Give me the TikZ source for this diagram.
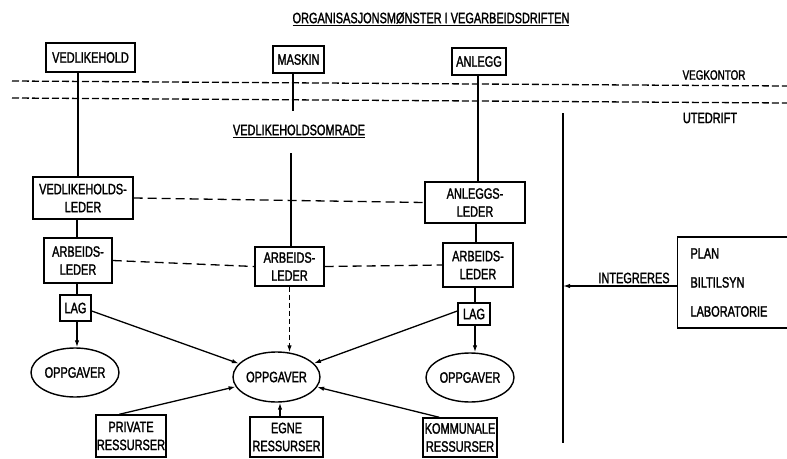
\documentclass[tikz,border=0pt]{standalone}
\usepackage{fontspec}
\setmainfont{Liberation Sans}[FakeStretch=0.73,FakeBold=1.6]
\usetikzlibrary{arrows.meta,shapes.geometric,calc}
\begin{document}
\begin{tikzpicture}[x=1pt,y=-1pt,
  font=\fontsize{15}{18}\selectfont,
  box/.style={draw, line width=1.4pt, inner sep=0pt, align=center},
  oval/.style={draw, ellipse, line width=1.4pt, inner sep=0pt},
  conn/.style={line width=1.3pt},
  arr/.style={line width=1.3pt, -{Latex[length=7pt,width=4.5pt]}},
  bdash/.style={line width=1.3pt, dash pattern=on 9pt off 5pt},
  hdash/.style={line width=1.3pt, dash pattern=on 7pt off 3pt}]
\useasboundingbox (0,0) rectangle (787,458);
\fill[white] (0,0) rectangle (787,458);

% titles
\node (title) at (431,19) {\underline{ORGANISASJONSMØNSTER I VEGARBEIDSDRIFTEN}};
\node (omr) at (299,131) {\underline{VEDLIKEHOLDSOMRADE}};
\node[font=\fontsize{13.5}{16}\selectfont] (vegk) at (714,75) {VEGKONTOR};
\node (ute) at (710,118) {UTEDRIFT};

% dashed boundary lines
\coordinate (d1a) at (12,81); \coordinate (d1b) at (787,86);
\coordinate (d2a) at (12,98); \coordinate (d2b) at (787,103);
\draw[hdash] (d1a) -- (d1b);
\draw[hdash] (d2a) -- (d2b);

% top boxes
\node[box, minimum width=89pt, minimum height=29pt] (vedl) at (90.5,57.5) {VEDLIKEHOLD};
\node[box, minimum width=51pt, minimum height=27pt] (maskin) at (298.5,59.5) {MASKIN};
\node[box, minimum width=54pt, minimum height=27pt] (anlegg) at (479,61.5) {ANLEGG};

% leaders
\node[box, minimum width=100pt, minimum height=42pt] (vleder) at (83,198) {VEDLIKEHOLDS-\\LEDER};
\node[box, minimum width=100pt, minimum height=41pt] (aleder) at (475,202.5) {ANLEGGS-\\LEDER};
\node[box, minimum width=68pt, minimum height=45pt] (arb1) at (78,260.5) {ARBEIDS-\\LEDER};
\node[box, minimum width=69pt, minimum height=39pt] (arb2) at (289.5,266.5) {ARBEIDS-\\LEDER};
\node[box, minimum width=70pt, minimum height=44pt] (arb3) at (478,265) {ARBEIDS-\\LEDER};
\node[box, minimum width=31pt, minimum height=26pt] (lag1) at (75.5,308) {LAG};
\node[box, minimum width=32pt, minimum height=22pt] (lag2) at (474,314) {LAG};

% tasks
\node[oval, minimum width=88pt, minimum height=49pt] (opp1) at (75,372.5) {OPPGAVER};
\node[oval, minimum width=87pt, minimum height=50pt] (opp2) at (276.5,377) {OPPGAVER};
\node[oval, minimum width=88pt, minimum height=49pt] (opp3) at (470,377.5) {OPPGAVER};

% resources
\node[box, minimum width=70pt, minimum height=42pt] (priv) at (131,436) {PRIVATE\\RESSURSER};
\node[box, minimum width=73pt, minimum height=40pt] (egne) at (286.5,437) {EGNE\\RESSURSER};
\node[box, minimum width=74pt, minimum height=39pt] (komm) at (460,437.5) {KOMMUNALE\\RESSURSER};

% plan box
\node[box, minimum width=97pt, minimum height=91pt, align=left, text width=84pt, inner xsep=13pt] (plan) at (732.5,282.5)
  {PLAN\\[11pt]BILTILSYN\\[11pt]LABORATORIE};

% vertical divider
\coordinate (v1) at (563,113); \coordinate (v2) at (563,443);
\draw[conn] (v1) -- (v2);
\coordinate (vint) at (563,286);
\draw[arr] ([yshift=-3.5pt]plan.west) -- (vint);
\node (integ) at (634,278) {INTEGRERES};

% solid connectors
\draw[conn] ([xshift=-12.5pt]vedl.south) -- ([xshift=-5pt]vleder.north);
\draw[conn] ([xshift=-6pt]vleder.south) -- ([xshift=-1pt]arb1.north);
\draw[conn] ([xshift=-1pt]arb1.south) -- ([xshift=1.5pt]lag1.north);
\draw[arr] ([xshift=1.5pt]lag1.south) -- ([xshift=2pt]opp1.north);

\coordinate (m1) at (293,111);
\draw[conn] ([xshift=-5.5pt]maskin.south) -- (m1);
\coordinate (m2) at (291,153);
\draw[conn] (m2) -- ([xshift=1.5pt]arb2.north);

\draw[conn] ([xshift=-1pt]anlegg.south) -- ([xshift=3pt]aleder.north);
\draw[conn] ([xshift=1pt]aleder.south) -- ([xshift=-2pt]arb3.north);
\draw[conn] ([xshift=-3pt]arb3.south) -- ([xshift=1pt]lag2.north);
\draw[arr] ([xshift=1pt]lag2.south) -- ([xshift=5pt]opp3.north);

% dashed connectors
\draw[bdash] (vleder.east) -- (aleder.west);
\draw[bdash] (arb1.east) -- (arb2.west);
\draw[bdash] (arb2.east) -- (arb3.west);
\draw[arr, dash pattern=on 5pt off 3pt] (arb2.south) -- ([xshift=13pt,yshift=-1pt]opp2.north);

% arrows into central tasks
\draw[arr] ([yshift=-3pt]lag1.east) -- (opp2);
\draw[arr] ([yshift=3pt]lag2.west) -- (opp2);
\draw[arr] ([xshift=24pt]priv.north west) -- (opp2);
\draw[arr] ([xshift=-6.5pt]egne.north) -- ([xshift=3.5pt]opp2.south);
\draw[arr] ([xshift=17pt]komm.north west) -- (opp2);
\end{tikzpicture}
\end{document}
